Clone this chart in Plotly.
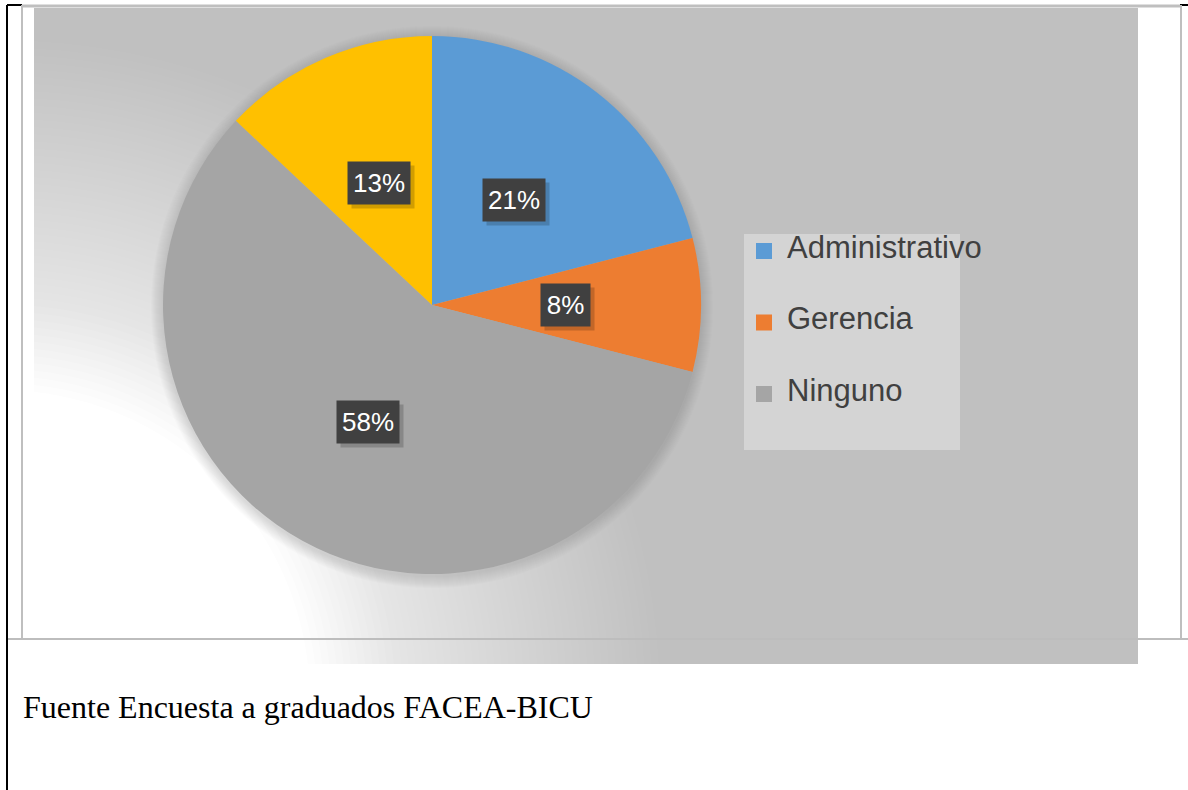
import math
import plotly.graph_objects as go

# data
labels = ["Administrativo", "Gerencia", "Ninguno", "Otro"]
values = [21, 8, 58, 13]
colors = ["#5b9bd5", "#ed7d31", "#a5a5a5", "#ffc000"]
legend_labels = labels[:3]  # the fourth entry is cut off in the original legend
caption = "Fuente Encuesta a graduados FACEA-BICU"

W, H = 1188, 790


def px(x):
    return x / W


def py(y):
    return 1 - y / H


# pie geometry in page pixels
cx, cy, R = 432, 305, 269

shapes = []

# chart area background
shapes.append(dict(type="rect", xref="paper", yref="paper", layer="below",
                   x0=px(34), x1=px(1138), y0=py(664), y1=py(8),
                   fillcolor="#c0c0c0", line_width=0))

# soft white glow from the lower-left corner
gx, gy, r_in, r_out, n = 0, 700, 310, 660, 50
for k in range(1, n + 1):
    r = r_out - (r_out - r_in) * (k - 1) / (n - 1)
    shapes.append(dict(type="circle", xref="paper", yref="paper", layer="below",
                       x0=px(gx - r), x1=px(gx + r), y0=py(gy + r), y1=py(gy - r),
                       fillcolor="white", opacity=1.0 / (n - k + 1), line_width=0))

# blurred shadow round the pie
for k in range(12, 0, -1):
    r = R + k
    shapes.append(dict(type="circle", xref="paper", yref="paper", layer="below",
                       x0=px(cx - r), x1=px(cx + r), y0=py(cy + 2 + r), y1=py(cy + 2 - r),
                       fillcolor="#909090", opacity=0.025, line_width=0))

# legend box
shapes.append(dict(type="rect", xref="paper", yref="paper", layer="below",
                   x0=px(744), x1=px(960), y0=py(450), y1=py(234),
                   fillcolor="#d4d4d4", line_width=0))

annotations = []
for i, lab in enumerate(legend_labels):
    yc = 251 + i * 71.5
    shapes.append(dict(type="rect", xref="paper", yref="paper", layer="above",
                       x0=px(756), x1=px(772), y0=py(yc + 8), y1=py(yc - 8),
                       fillcolor=colors[i], line_width=0))
    annotations.append(dict(text=lab, xref="paper", yref="paper", x=px(785), y=py(yc - 4),
                            xanchor="left", yanchor="middle", showarrow=False,
                            font=dict(family="Liberation Sans, Arial", size=31, color="#404040")))

# table borders of the document
line_gray = dict(color="#bfbfbf", width=2)
line_black = dict(color="black", width=2)
shapes += [
    dict(type="line", xref="paper", yref="paper", x0=px(7), x1=px(7), y0=py(790), y1=py(5), line=line_black),
    dict(type="line", xref="paper", yref="paper", x0=px(7), x1=px(22), y0=py(5), y1=py(5), line=line_black),
    dict(type="line", xref="paper", yref="paper", x0=px(1180), x1=px(1188), y0=py(5), y1=py(5), line=line_black),
    dict(type="line", xref="paper", yref="paper", x0=px(22), x1=px(22), y0=py(639), y1=py(5), line=line_gray),
    dict(type="line", xref="paper", yref="paper", x0=px(1181), x1=px(1181), y0=py(639), y1=py(5), line=line_gray),
    dict(type="line", xref="paper", yref="paper", x0=px(22), x1=px(1180), y0=py(6), y1=py(6),
         line=dict(color="#bfbfbf", width=3)),
    dict(type="line", xref="paper", yref="paper", x0=px(8), x1=px(1188), y0=py(639), y1=py(639),
         line=dict(color="#bdbdbd", width=2)),
]

# percentage labels in dark boxes, placed halfway out along each slice's mid angle
total = sum(values)
cum = 0
for v in values:
    theta = math.radians(360 * (cum + v / 2) / total)
    cum += v
    lx = cx + 0.495 * R * math.sin(theta)
    ly = cy - 0.495 * R * math.cos(theta)
    txt = f"{round(100 * v / total)}%"
    bw = 23 + 13 * len(txt)
    annotations.append(dict(text="", xref="paper", yref="paper", x=px(lx + 4), y=py(ly + 4),
                            xanchor="center", yanchor="middle", showarrow=False,
                            width=bw, height=42, borderpad=0, bgcolor="rgba(0,0,0,0.18)"))
    annotations.append(dict(text=txt, xref="paper", yref="paper", x=px(lx), y=py(ly),
                            xanchor="center", yanchor="middle", showarrow=False,
                            width=bw, height=42, borderpad=0, bgcolor="#404040",
                            font=dict(family="Liberation Sans, Arial", size=26, color="white")))

annotations.append(dict(text=caption, xref="paper", yref="paper", x=px(21), y=py(707),
                        xanchor="left", yanchor="middle", showarrow=False,
                        font=dict(family="Liberation Serif, Times New Roman", size=32, color="black")))

fig = go.Figure(go.Pie(
    labels=labels,
    values=values,
    sort=False,
    direction="clockwise",
    rotation=0,
    marker=dict(colors=colors, line=dict(width=0)),
    textinfo="none",
    hoverinfo="label+percent",
    domain=dict(x=[px(cx - R), px(cx + R)], y=[py(cy + R), py(cy - R)]),
))

fig.update_layout(
    width=W, height=H,
    margin=dict(l=0, r=0, t=0, b=0),
    paper_bgcolor="white",
    plot_bgcolor="white",
    showlegend=False,
    shapes=shapes,
    annotations=annotations,
)

fig.write_html("out.html", config={"displayModeBar": False},
               post_script="document.body.style.margin='0';document.body.style.overflow='hidden';")
